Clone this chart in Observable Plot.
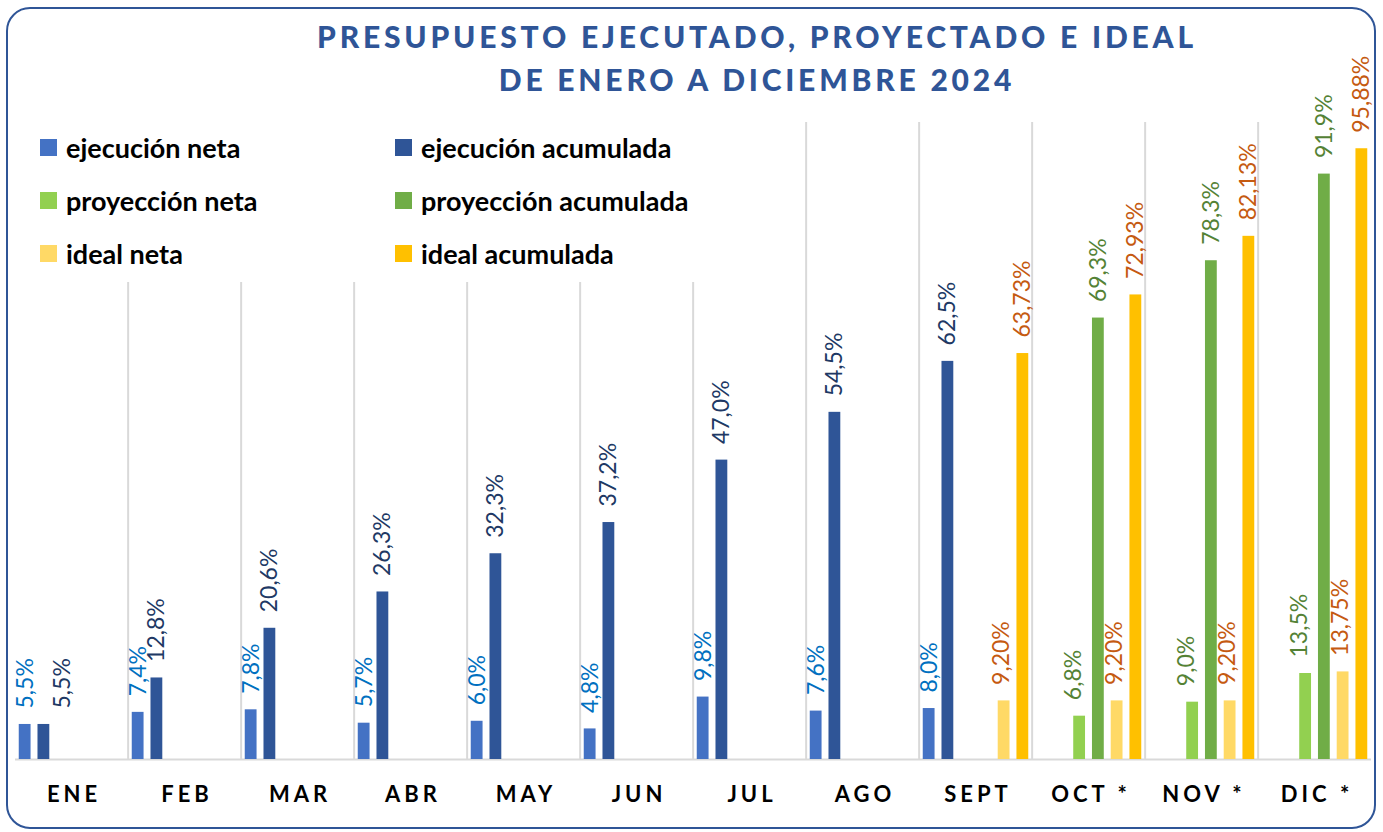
<!DOCTYPE html>
<html><head><meta charset="utf-8">
<script src="https://cdn.jsdelivr.net/npm/d3@7"></script>
<script src="https://cdn.jsdelivr.net/npm/@observablehq/plot@0.6"></script>
<style>
body{margin:0;background:#fff;font-family:Lato,sans-serif;}
#wrap{position:relative;width:1383px;height:832px;overflow:hidden;background:#fff;}
#chart{position:absolute;left:0;top:0;}
#frame{position:absolute;left:6px;top:7px;width:1366px;height:818px;border:2px solid #2f5597;border-radius:24px;pointer-events:none;}
#title{position:absolute;left:257px;top:15px;width:1000px;text-align:center;color:#2f5597;font-weight:900;font-size:30px;line-height:43px;letter-spacing:3.8px;}
#legend{position:absolute;left:20px;top:122px;width:676px;height:160px;background:#fff;}
.li{position:absolute;display:flex;align-items:center;font-weight:bold;font-size:27px;color:#000;height:30px;}
.sw{width:17px;height:17px;margin-right:9px;flex:none;}
g[aria-label="fx-axis tick label"] text{letter-spacing:4px;}
</style>
</head><body>
<div id="wrap">
  <div id="chart"></div>
  <div id="legend"></div>
  <div id="title">PRESUPUESTO EJECUTADO, PROYECTADO E IDEAL<br>DE ENERO A DICIEMBRE 2024</div>
  <div id="frame"></div>
</div>
<script>
const months = ["ENE","FEB","MAR","ABR","MAY","JUN","JUL","AGO","SEPT","OCT *","NOV *","DIC *"];
const series = ["ejecución neta","ejecución acumulada","proyección neta","proyección acumulada","ideal neta","ideal acumulada"];
const ejecucionNeta      = [5.5, 7.4, 7.8, 5.7, 6.0, 4.8, 9.8, 7.6, 8.0, null, null, null];
const ejecucionAcumulada = [5.5, 12.8, 20.6, 26.3, 32.3, 37.2, 47.0, 54.5, 62.5, null, null, null];
const proyeccionNeta     = [null, null, null, null, null, null, null, null, null, 6.8, 9.0, 13.5];
const proyeccionAcumulada= [null, null, null, null, null, null, null, null, null, 69.3, 78.3, 91.9];
const idealNeta          = [null, null, null, null, null, null, null, null, 9.20, 9.20, 9.20, 13.75];
const idealAcumulada     = [null, null, null, null, null, null, null, null, 63.73, 72.93, 82.13, 95.88];
const decimals = [1, 1, 1, 1, 2, 2];

const barColors = ["#4472c4","#2f5597","#92d050","#70ad47","#ffd966","#ffc000"];
const labelColors = ["#0070c0","#203864","#548235","#548235","#c55a11","#c55a11"];
const labelShift = [0, 0, -6, 0, -2, 0];

const valuesBySeries = [ejecucionNeta, ejecucionAcumulada, proyeccionNeta, proyeccionAcumulada, idealNeta, idealAcumulada];
const rows = [];
months.forEach((m, i) => series.forEach((s, j) => {
  const v = valuesBySeries[j][i];
  if (v != null) rows.push({month: m, series: s, value: v, si: j, label: v.toFixed(decimals[j]).replace(".", ",") + "%"});
}));

const labelMarks = series.map((s, j) => Plot.text(rows.filter(d => d.si === j && !(j === 1 && d.month === "ENE")), {
  fx: "month", x: "series", y: "value", text: "label", rotate: -90,
  textAnchor: "start", lineAnchor: "middle", dy: -16, dx: labelShift[j],
  fill: labelColors[j], fontSize: 23
}));
labelMarks.push(Plot.text(rows.filter(d => d.si === 1 && d.month === "ENE"), {
  fx: "month", x: "series", y: "value", text: "label", rotate: -90,
  textAnchor: "start", lineAnchor: "middle", dy: -16, dx: 19,
  fill: labelColors[1], fontSize: 23
}));

const chart = Plot.plot({
  width: 1383, height: 832,
  marginTop: 122, marginBottom: 73, marginLeft: 15, marginRight: 12,
  style: {fontFamily: "Lato, sans-serif", background: "transparent"},
  fx: {domain: months, paddingInner: 0, paddingOuter: 0, round: false, label: null},
  x: {domain: series, paddingInner: 0.37, paddingOuter: 0.2, align: 0.5, round: false, axis: null},
  y: {domain: [0, 100], axis: null},
  color: {domain: series, range: barColors},
  marks: [
    Plot.ruleX(months.slice(1), {fx: d => d, x: () => series[0], dx: -10, stroke: "#d9d9d9", strokeWidth: 2}),
    Plot.ruleY([0], {stroke: "#d9d9d9", strokeWidth: 2}),
    Plot.barY(rows, {fx: "month", x: "series", y: "value", fill: "series"}),
    ...labelMarks,
    Plot.axisFx({anchor: "bottom", tickSize: 0, tickPadding: 27, dx: 2, fontSize: 22, fontWeight: "bold", fill: "#000", label: null})
  ]
});
document.getElementById("chart").appendChild(chart);

const legend = document.getElementById("legend");
const legendPos = [[20, 10], [375, 10], [20, 63], [375, 63], [20, 116], [375, 116]];
series.forEach((s, j) => {
  const el = document.createElement("div");
  el.className = "li";
  el.style.left = legendPos[j][0] + "px";
  el.style.top = legendPos[j][1] + "px";
  el.innerHTML = `<span class="sw" style="background:${barColors[j]}"></span><span>${s}</span>`;
  legend.appendChild(el);
});
</script>
</body></html>
